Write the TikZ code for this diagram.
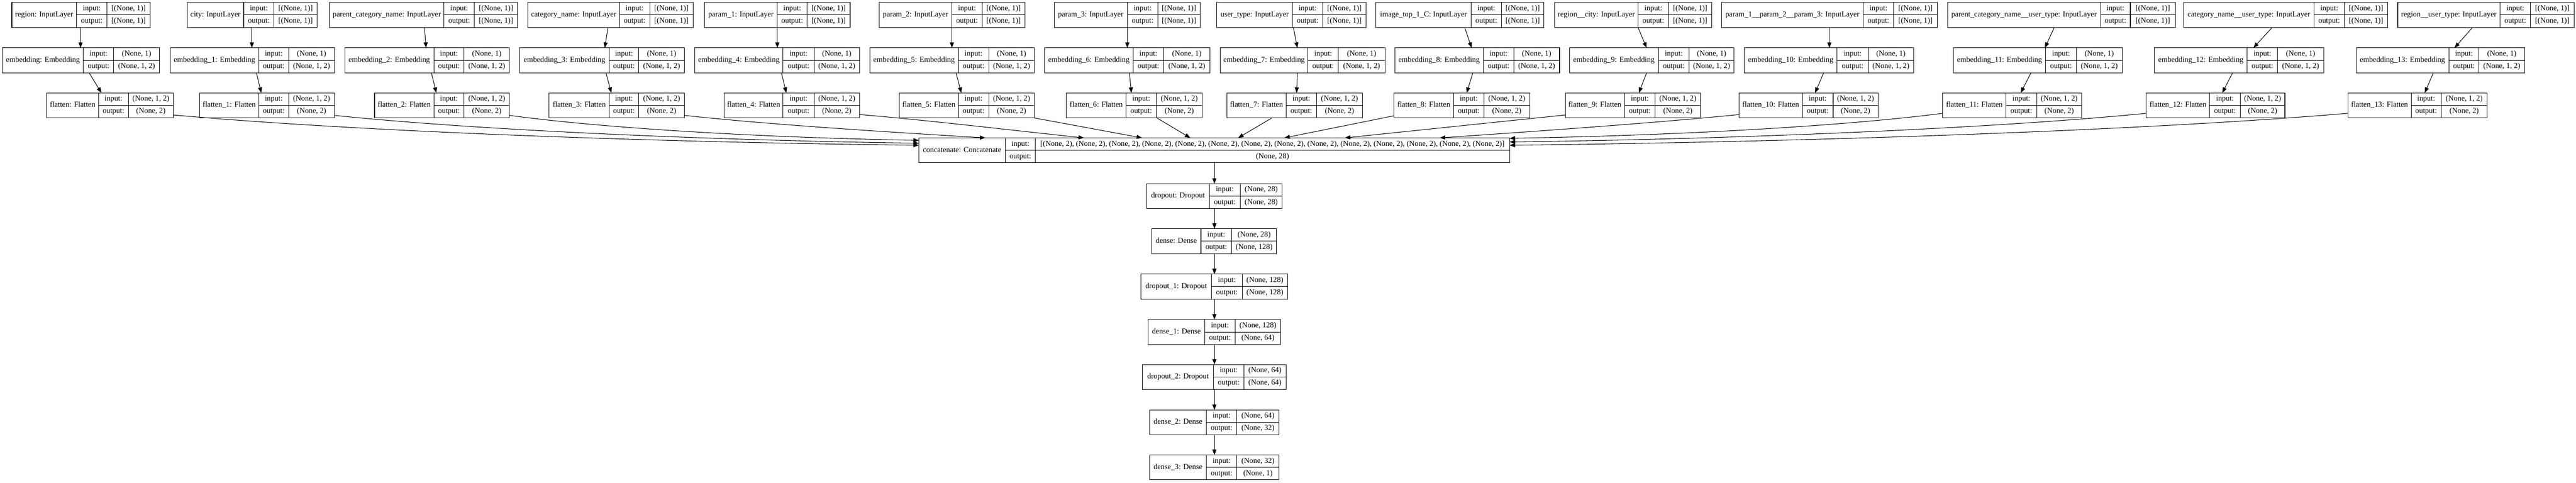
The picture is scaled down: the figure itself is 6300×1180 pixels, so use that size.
\documentclass[tikz,border=0pt]{standalone}
\usepackage{fontspec}
\setmainfont{Liberation Serif}
\usetikzlibrary{arrows.meta,fit}
\tikzset{
  box/.style={inner sep=0pt, outer sep=0pt},
  cell/.style={line width=1pt},
  txt/.style={inner sep=0pt, font=\fontsize{14pt}{16pt}\selectfont, text height=9.5pt, text depth=3pt},
  arr/.style={line width=1pt, -{Triangle[length=10pt,width=7.5pt]}},
}
\newcommand\krec[9]{%
  \node[box, fit={(#2,#6) (#5,{#6+61})}] (#1) {};
  \draw[cell] (#2,#6) rectangle (#5,{#6+61});
  \draw[cell] (#3,#6) -- (#3,{#6+61}) (#4,#6) -- (#4,{#6+61}) (#3,{#6+30.5}) -- (#5,{#6+30.5});
  \node[txt] (#1l) at ({(#2+#3)/2},{#6+30.5}) {#7};
  \node[txt] (#1a) at ({(#3+#4)/2},{#6+15.25}) {input:};
  \node[txt] (#1b) at ({(#3+#4)/2},{#6+45.75}) {output:};
  \node[txt] (#1c) at ({(#4+#5)/2},{#6+15.25}) {#8};
  \node[txt] (#1d) at ({(#4+#5)/2},{#6+45.75}) {#9};
}
\begin{document}
\begin{tikzpicture}[x=0.75pt,y=-0.75pt]
\fill[white] (0,0) rectangle (6300,1180);
\useasboundingbox (0,0) rectangle (6300,1180);
% inputs
\krec{in0}{29}{187}{262}{367}{6}{region: InputLayer}{[(None, 1)]}{[(None, 1)]}
\krec{in1}{458}{596}{670}{776}{6}{city: InputLayer}{[(None, 1)]}{[(None, 1)]}
\krec{in2}{806}{1086}{1160}{1266}{6}{parent\_category\_name: InputLayer}{[(None, 1)]}{[(None, 1)]}
\krec{in3}{1291}{1515}{1589}{1695}{6}{category\_name: InputLayer}{[(None, 1)]}{[(None, 1)]}
\krec{in4}{1723}{1901}{1974}{2079}{6}{param\_1: InputLayer}{[(None, 1)]}{[(None, 1)]}
\krec{in5}{2150}{2328}{2402}{2507}{6}{param\_2: InputLayer}{[(None, 1)]}{[(None, 1)]}
\krec{in6}{2578}{2757}{2832}{2935}{6}{param\_3: InputLayer}{[(None, 1)]}{[(None, 1)]}
\krec{in7}{2976}{3161}{3235}{3341}{6}{user\_type: InputLayer}{[(None, 1)]}{[(None, 1)]}
\krec{in8}{3365}{3598}{3672}{3776}{6}{image\_top\_1\_C: InputLayer}{[(None, 1)]}{[(None, 1)]}
\krec{in9}{3802}{4006}{4081}{4186}{6}{region\_\_city: InputLayer}{[(None, 1)]}{[(None, 1)]}
\krec{in10}{4210}{4557}{4631}{4738}{6}{param\_1\_\_param\_2\_\_param\_3: InputLayer}{[(None, 1)]}{[(None, 1)]}
\krec{in11}{4763}{5137}{5210}{5320}{6}{parent\_category\_name\_\_user\_type: InputLayer}{[(None, 1)]}{[(None, 1)]}
\krec{in12}{5341}{5659}{5734}{5839}{6}{category\_name\_\_user\_type: InputLayer}{[(None, 1)]}{[(None, 1)]}
\krec{in13}{5864}{6114}{6189}{6295}{6}{region\_\_user\_type: InputLayer}{[(None, 1)]}{[(None, 1)]}
% embeddings
\krec{em0}{6}{204}{278}{390}{117}{embedding: Embedding}{(None, 1)}{(None, 1, 2)}
\krec{em1}{416}{633}{706}{818}{117}{embedding\_1: Embedding}{(None, 1)}{(None, 1, 2)}
\krec{em2}{843}{1061}{1135}{1246}{117}{embedding\_2: Embedding}{(None, 1)}{(None, 1, 2)}
\krec{em3}{1271}{1490}{1562}{1674}{117}{embedding\_3: Embedding}{(None, 1)}{(None, 1, 2)}
\krec{em4}{1699}{1915}{1991}{2102}{117}{embedding\_4: Embedding}{(None, 1)}{(None, 1, 2)}
\krec{em5}{2127}{2344}{2418}{2530}{117}{embedding\_5: Embedding}{(None, 1)}{(None, 1, 2)}
\krec{em6}{2555}{2771}{2846}{2959}{117}{embedding\_6: Embedding}{(None, 1)}{(None, 1, 2)}
\krec{em7}{2984}{3199}{3273}{3387}{117}{embedding\_7: Embedding}{(None, 1)}{(None, 1, 2)}
\krec{em8}{3411}{3628}{3702}{3814}{117}{embedding\_8: Embedding}{(None, 1)}{(None, 1, 2)}
\krec{em9}{3838}{4056}{4131}{4241}{117}{embedding\_9: Embedding}{(None, 1)}{(None, 1, 2)}
\krec{em10}{4266}{4493}{4569}{4680}{117}{embedding\_10: Embedding}{(None, 1)}{(None, 1, 2)}
\krec{em11}{4777}{5003}{5078}{5190}{117}{embedding\_11: Embedding}{(None, 1)}{(None, 1, 2)}
\krec{em12}{5269}{5496}{5570}{5683}{117}{embedding\_12: Embedding}{(None, 1)}{(None, 1, 2)}
\krec{em13}{5762}{5989}{6063}{6174}{117}{embedding\_13: Embedding}{(None, 1)}{(None, 1, 2)}
% flattens
\krec{fl0}{114}{241}{314}{424}{227}{flatten: Flatten}{(None, 1, 2)}{(None, 2)}
\krec{fl1}{488}{633}{706}{818}{227}{flatten\_1: Flatten}{(None, 1, 2)}{(None, 2)}
\krec{fl2}{916}{1061}{1135}{1246}{227}{flatten\_2: Flatten}{(None, 1, 2)}{(None, 2)}
\krec{fl3}{1343}{1490}{1562}{1674}{227}{flatten\_3: Flatten}{(None, 1, 2)}{(None, 2)}
\krec{fl4}{1771}{1915}{1991}{2102}{227}{flatten\_4: Flatten}{(None, 1, 2)}{(None, 2)}
\krec{fl5}{2199}{2344}{2418}{2530}{227}{flatten\_5: Flatten}{(None, 1, 2)}{(None, 2)}
\krec{fl6}{2608}{2754}{2828}{2940}{227}{flatten\_6: Flatten}{(None, 1, 2)}{(None, 2)}
\krec{fl7}{3001}{3145}{3220}{3332}{227}{flatten\_7: Flatten}{(None, 1, 2)}{(None, 2)}
\krec{fl8}{3409}{3555}{3629}{3741}{227}{flatten\_8: Flatten}{(None, 1, 2)}{(None, 2)}
\krec{fl9}{3828}{3973}{4048}{4159}{227}{flatten\_9: Flatten}{(None, 1, 2)}{(None, 2)}
\krec{fl10}{4253}{4408}{4483}{4593}{227}{flatten\_10: Flatten}{(None, 1, 2)}{(None, 2)}
\krec{fl11}{4751}{4906}{4981}{5091}{227}{flatten\_11: Flatten}{(None, 1, 2)}{(None, 2)}
\krec{fl12}{5249}{5404}{5479}{5588}{227}{flatten\_12: Flatten}{(None, 1, 2)}{(None, 2)}
\krec{fl13}{5742}{5897}{5970}{6083}{227}{flatten\_13: Flatten}{(None, 1, 2)}{(None, 2)}
% concatenate
\krec{cat}{2247}{2459}{2532}{3692}{337}{concatenate: Concatenate}{[(None, 2), (None, 2), (None, 2), (None, 2), (None, 2), (None, 2), (None, 2), (None, 2), (None, 2), (None, 2), (None, 2), (None, 2), (None, 2), (None, 2)]}{(None, 28)}
% chain
\krec{do0}{2804}{2958}{3033}{3136}{449}{dropout: Dropout}{(None, 28)}{(None, 28)}
\krec{de0}{2817}{2937}{3012}{3122}{559}{dense: Dense}{(None, 28)}{(None, 128)}
\krec{do1}{2790}{2963}{3038}{3149}{670}{dropout\_1: Dropout}{(None, 128)}{(None, 128)}
\krec{de1}{2808}{2946}{3021}{3132}{781}{dense\_1: Dense}{(None, 128)}{(None, 64)}
\krec{do2}{2794}{2968}{3042}{3145}{891}{dropout\_2: Dropout}{(None, 64)}{(None, 64)}
\krec{de2}{2812}{2950}{3025}{3128}{1002}{dense\_2: Dense}{(None, 64)}{(None, 32)}
\krec{de3}{2812}{2950}{3025}{3128}{1112}{dense\_3: Dense}{(None, 32)}{(None, 1)}
% input -> embedding
\draw[arr] (197,0 |- in0.south) -- (197,0 |- em0.north);
\draw[arr] (616,0 |- in1.south) -- (616,0 |- em1.north);
\draw[arr] (1038,0 |- in2.south) -- (1042,0 |- em2.north);
\draw[arr] (1487,0 |- in3.south) -- (1479,0 |- em3.north);
\draw[arr] (1901,0 |- in4.south) -- (1901,0 |- em4.north);
\draw[arr] (2328,0 |- in5.south) -- (2328,0 |- em5.north);
\draw[arr] (2757,0 |- in6.south) -- (2757,0 |- em6.north);
\draw[arr] (3163,0 |- in7.south) -- (3173,0 |- em7.north);
\draw[arr] (3582,0 |- in8.south) -- (3599,0 |- em8.north);
\draw[arr] (4006,0 |- in9.south) -- (4027,0 |- em9.north);
\draw[arr] (4474,0 |- in10.south) -- (4474,0 |- em10.north);
\draw[arr] (5024,0 |- in11.south) -- (5001,0 |- em11.north);
\draw[arr] (5557,0 |- in12.south) -- (5511,0 |- em12.north);
\draw[arr] (6047,0 |- in13.south) -- (6003,0 |- em13.north);
% embedding -> flatten
\draw[arr] (218,0 |- em0.south) -- (248,0 |- fl0.north);
\draw[arr] (627,0 |- em1.south) -- (639,0 |- fl1.north);
\draw[arr] (1055,0 |- em2.south) -- (1067,0 |- fl2.north);
\draw[arr] (1482,0 |- em3.south) -- (1495,0 |- fl3.north);
\draw[arr] (1911,0 |- em4.south) -- (1923,0 |- fl4.north);
\draw[arr] (2338,0 |- em5.south) -- (2351,0 |- fl5.north);
\draw[arr] (2762,0 |- em6.south) -- (2767,0 |- fl6.north);
\draw[arr] (3173,0 |- em7.south) -- (3171,0 |- fl7.north);
\draw[arr] (3602,0 |- em8.south) -- (3587,0 |- fl8.north);
\draw[arr] (4027,0 |- em9.south) -- (4008,0 |- fl9.north);
\draw[arr] (4460,0 |- em10.south) -- (4439,0 |- fl10.north);
\draw[arr] (4967,0 |- em11.south) -- (4942,0 |- fl11.north);
\draw[arr] (5460,0 |- em12.south) -- (5435,0 |- fl12.north);
\draw[arr] (5951,0 |- em13.south) -- (5930,0 |- fl13.north);
% flatten -> concatenate
\draw[arr] (fl0.east |- 0,281) .. controls +(456,41) and +(-638,-7) .. (cat.west |- 0,355);
\draw[arr] (fl1.east |- 0,282) .. controls +(357,37) and +(-500,-7) .. (cat.west |- 0,350);
\draw[arr] (fl2.east |- 0,282) .. controls +(250,34) and +(-350,-6) .. (cat.west |- 0,343);
\draw[arr] (fl3.east |- 0,282) .. controls +(200,22) and +(-250,-15) .. (2410,0 |- cat.north);
\draw[arr] (fl4.east |- 0,280) .. controls +(150,12) and +(-180,-19) .. (2651,0 |- cat.north);
\draw[arr] (2528,0 |- fl5.south) -- (2793,0 |- cat.north);
\draw[arr] (2829,0 |- fl6.south) -- (2911,0 |- cat.north);
\draw[arr] (3111,0 |- fl7.south) -- (3028,0 |- cat.north);
\draw[arr] (fl8.west |- 0,283) -- (3141,0 |- cat.north);
\draw[arr] (fl9.west |- 0,281) -- (3289,0 |- cat.north);
\draw[arr] (fl10.west |- 0,280) .. controls +(-200,20) and +(250,-17) .. (3521,0 |- cat.north);
\draw[arr] (fl11.west |- 0,277) .. controls +(-265,34) and +(370,-6) .. (cat.east |- 0,338);
\draw[arr] (fl12.west |- 0,277) .. controls +(-389,38) and +(545,-7) .. (cat.east |- 0,347);
\draw[arr] (fl13.west |- 0,277) .. controls +(-512,43) and +(717,-8) .. (cat.east |- 0,355);
% chain
\draw[arr] (2970,0 |- cat.south) -- (2970,0 |- do0.north);
\draw[arr] (2970,0 |- do0.south) -- (2970,0 |- de0.north);
\draw[arr] (2970,0 |- de0.south) -- (2970,0 |- do1.north);
\draw[arr] (2970,0 |- do1.south) -- (2970,0 |- de1.north);
\draw[arr] (2970,0 |- de1.south) -- (2970,0 |- do2.north);
\draw[arr] (2970,0 |- do2.south) -- (2970,0 |- de2.north);
\draw[arr] (2970,0 |- de2.south) -- (2970,0 |- de3.north);
\end{tikzpicture}
\end{document}
